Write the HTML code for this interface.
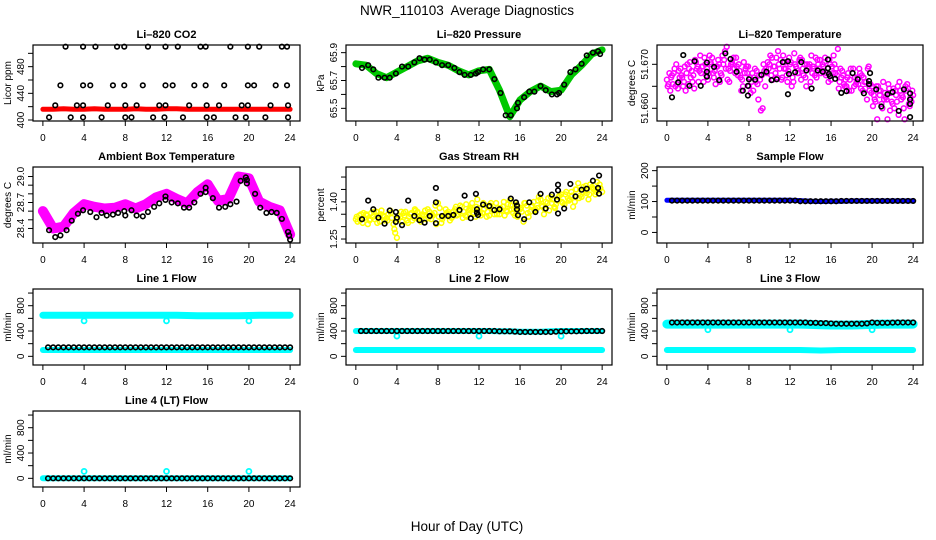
<!DOCTYPE html>
<html><head><meta charset="utf-8"><style>
html,body{margin:0;padding:0;background:#fff;width:936px;height:540px;overflow:hidden}
svg{display:block;font-family:"Liberation Sans",Arial,sans-serif}
</style></head><body>
<svg id="chart" width="936" height="540" viewBox="0 0 936 540">
<text x="467" y="15" text-anchor="middle" font-size="13.5">NWR_110103&#160; Average Diagnostics</text>
<text x="467" y="531" text-anchor="middle" font-size="13.5">Hour of Day (UTC)</text>
</svg>
<script>
// ---------- data ----------
const xTicks=[0,4,8,12,16,20,24];
const co2Hours=[2.2,3.9,5.1,7.2,7.9,10.2,11.9,13.1,15.3,15.8,18.2,19.9,21.0,23.2,23.7, 1.7,3.9,4.6,6.8,7.9,9.7,11.9,12.6,14.7,15.8,17.6,19.9,20.5,22.6,23.7, 1.2,3.3,3.9,6.3,8.0,9.1,11.3,11.9,14.2,15.9,17.1,19.3,19.9,22.1,23.8, 0.6,2.7,3.9,5.7,8.0,8.6,10.7,11.8,13.6,15.9,16.6,18.7,19.7,21.6,23.8];
const co2Vals=[510,510,510,510,510,510,510,510,510,510,510,510,510,510,510, 452,452,452,452,452,452,452,452,452,452,452,452,452,452,452, 422,422,422,422,422,422,422,422,422,422,422,422,422,422,422, 404,404,404,404,404,404,404,404,404,404,404,404,404,404,404];
const co2Red=[416,416,417,416,416,417,416,416,416,417,416,416,417,417,416,416,416,416,416,416,416,416,416,416,416];
const presHours=[0.6,1.2,1.7,2.2,2.8,3.3,3.9,4.5,5.1,5.7,6.2,6.7,7.2,7.8,8.4,9.0,9.6,10.1,10.6,11.2,11.7,11.9,12.4,13.0,13.5,14.1,14.6,15.1,15.7,15.8,16.4,16.9,17.4,18.0,18.5,19.1,19.6,19.8,20.3,20.9,21.4,22.0,22.5,23.1,23.6,23.8];
const presVals=[65.79,65.81,65.78,65.72,65.72,65.72,65.75,65.80,65.80,65.83,65.86,65.85,65.85,65.83,65.81,65.81,65.79,65.76,65.74,65.74,65.75,65.76,65.78,65.78,65.71,65.61,65.45,65.45,65.50,65.54,65.58,65.62,65.62,65.66,65.63,65.60,65.60,65.61,65.67,65.76,65.78,65.82,65.88,65.90,65.91,65.89];
const presGreen=[65.82,65.81,65.75,65.72,65.76,65.80,65.84,65.86,65.83,65.81,65.77,65.74,65.77,65.78,65.63,65.44,65.56,65.62,65.66,65.62,65.63,65.74,65.81,65.89,65.92];
const tempHours=[0.5,1.1,1.6,2.2,2.7,3.3,3.9,3.9,3.9,4.6,5.1,5.7,6.2,6.8,7.4,7.9,7.9,8.0,8.6,9.2,9.7,10.2,10.7,11.3,11.8,11.8,11.9,12.5,13.1,13.6,14.1,14.7,15.2,15.7,15.7,15.8,15.9,16.4,17.0,17.5,18.1,18.6,19.2,19.7,19.7,19.8,20.4,20.9,21.5,22.0,22.6,23.1,23.7,23.7,23.7,23.7];
const tempVals=[51.6625,51.6659,51.6721,51.6651,51.6707,51.6651,51.6704,51.6683,51.6672,51.6694,51.6664,51.6725,51.6712,51.6683,51.6640,51.6651,51.6629,51.6666,51.6665,51.6676,51.6683,51.6664,51.6666,51.6705,51.6707,51.6632,51.6678,51.6682,51.6705,51.6686,51.6645,51.6686,51.6683,51.6711,51.6691,51.6678,51.6673,51.6667,51.6635,51.6639,51.6680,51.6666,51.6634,51.6655,51.6662,51.6680,51.6643,51.6604,51.6632,51.6637,51.6594,51.6643,51.6634,51.6620,51.6610,51.6580];
const tempMagA=[51.6665,51.6640,51.6680,51.6655,51.6690,51.6660,51.6700,51.6670,51.6645,51.6695,51.6680,51.6715,51.6665,51.6700,51.6685,51.6710,51.6675,51.6730,51.6690,51.6705,51.6680,51.6700,51.6665,51.6690,51.6650,51.6680,51.6660,51.6675,51.6600,51.6690,51.6700,51.6665,51.6715,51.6690,51.6720,51.6675,51.6700,51.6660,51.6690,51.6715,51.6675,51.6700,51.6660,51.6690,51.6710,51.6680,51.6705,51.6690,51.6665,51.6700,51.6735,51.6670,51.6650,51.6680,51.6640,51.6670,51.6655,51.6675,51.6645,51.6695,51.6650,51.6615,51.6640,51.6600,51.6625,51.6645,51.6610,51.6630,51.6660,51.6625,51.6640,51.6605,51.6630];
const tempMagB=[51.6655,51.6675,51.6650,51.6685,51.6670,51.6640,51.6690,51.6660,51.6705,51.6685,51.6695,51.6675,51.6720,51.6680,51.6695,51.6660,51.6700,51.6740,51.6685,51.6715,51.6695,51.6670,51.6705,51.6680,51.6635,51.6670,51.6655,51.6595,51.6685,51.6705,51.6675,51.6695,51.6730,51.6665,51.6705,51.6685,51.6650,51.6700,51.6680,51.6710,51.6670,51.6695,51.6680,51.6715,51.6690,51.6700,51.6675,51.6710,51.6680,51.6690,51.6660,51.6675,51.6650,51.6665,51.6690,51.6660,51.6680,51.6670,51.6620,51.6655,51.6630,51.6575,51.6640,51.6620,51.6575,51.6635,51.6600,51.6650,51.6620,51.6575,51.6645,51.6615];
const tempMagC=[51.6650,51.6670,51.6690,51.6645,51.6675,51.6695,51.6655,51.6685,51.6710,51.6660,51.6695,51.6700,51.6680,51.6715,51.6655,51.6700,51.6720,51.6690,51.6660,51.6700,51.6715,51.6685,51.6650,51.6695,51.6670,51.6640,51.6685,51.6665,51.6700,51.6680,51.6720,51.6695,51.6670,51.6710,51.6690,51.6660,51.6705,51.6725,51.6680,51.6665,51.6700,51.6690,51.6720,51.6675,51.6700,51.6685,51.6715,51.6660,51.6695,51.6680,51.6645,51.6685,51.6665,51.6640,51.6680,51.6655,51.6690,51.6640,51.6660,51.6640,51.6605,51.6650,51.6630,51.6660,51.6620,51.6595,51.6645,51.6615,51.6640,51.6600,51.6655,51.6625];
const tempMagD=[51.6680,51.6655,51.6700,51.6670,51.6650,51.6680,51.6705,51.6675,51.6690,51.6720,51.6660,51.6690,51.6705,51.6670,51.6695,51.6680,51.6710,51.6665,51.6700,51.6690,51.6675,51.6640,51.6680,51.6695,51.6660,51.6690,51.6620,51.6675,51.6650,51.6690,51.6715,51.6680,51.6700,51.6670,51.6690,51.6715,51.6670,51.6695,51.6710,51.6690,51.6650,51.6700,51.6695,51.6670,51.6710,51.6695,51.6680,51.6700,51.6720,51.6675,51.6690,51.6655,51.6670,51.6690,51.6650,51.6670,51.6645,51.6660,51.6690,51.6635,51.6620,51.6650,51.6610,51.6635,51.6655,51.6615,51.6640,51.6585,51.6630,51.6650,51.6610,51.6640];
const ambHours=[0.6,1.2,1.7,2.3,2.8,3.4,3.9,4.6,5.2,5.7,6.2,6.8,7.3,7.9,8.0,8.6,9.1,9.7,10.2,10.8,11.3,11.9,11.9,12.5,13.1,13.7,14.2,14.7,15.3,15.8,15.8,16.5,17.1,17.7,18.2,18.8,19.2,19.7,19.8,19.8,20.6,21.1,21.7,22.2,22.7,23.2,23.8,23.9,24.0];
const ambVals=[28.38,28.30,28.32,28.38,28.49,28.57,28.61,28.59,28.53,28.58,28.55,28.56,28.58,28.60,28.55,28.61,28.55,28.54,28.59,28.65,28.69,28.77,28.73,28.70,28.69,28.64,28.64,28.70,28.80,28.87,28.82,28.75,28.64,28.65,28.68,28.71,28.95,28.99,28.96,28.92,28.80,28.64,28.58,28.59,28.58,28.51,28.36,28.32,28.27];
const ambMag=[28.60,28.40,28.42,28.58,28.68,28.65,28.63,28.64,28.68,28.63,28.68,28.76,28.80,28.74,28.69,28.82,28.91,28.72,28.74,29.00,28.98,28.71,28.65,28.61,28.33];
const rhHours=[0.6,1.2,1.7,2.2,2.8,3.3,3.9,3.9,4.0,4.5,5.1,5.7,6.2,6.7,7.2,7.8,7.8,7.8,8.4,9.0,9.5,10.1,10.6,11.2,11.7,11.8,11.8,11.9,12.4,13.0,13.5,14.0,15.1,15.6,15.7,15.7,15.8,16.4,16.9,17.5,18.0,18.5,19.1,19.6,19.7,19.7,19.7,20.3,20.9,21.4,22.0,22.5,23.1,23.6,23.7,23.7];
const rhVals=[1.330,1.405,1.370,1.336,1.312,1.365,1.359,1.319,1.336,1.306,1.405,1.343,1.326,1.316,1.343,1.456,1.398,1.314,1.343,1.343,1.347,1.367,1.425,1.334,1.432,1.370,1.356,1.347,1.389,1.383,1.367,1.370,1.413,1.398,1.385,1.370,1.346,1.330,1.398,1.359,1.432,1.373,1.429,1.409,1.469,1.446,1.353,1.373,1.472,1.422,1.449,1.453,1.485,1.456,1.506,1.433];
const rhYelA=[1.330,1.345,1.315,1.350,1.325,1.340,1.360,1.320,1.345,1.335,1.365,1.310,1.255,1.340,1.355,1.325,1.350,1.335,1.360,1.320,1.345,1.370,1.330,1.355,1.395,1.315,1.345,1.360,1.335,1.370,1.350,1.380,1.345,1.365,1.395,1.340,1.375,1.355,1.385,1.345,1.370,1.395,1.350,1.380,1.365,1.405,1.355,1.390,1.370,1.320,1.385,1.360,1.400,1.375,1.410,1.350,1.395,1.420,1.380,1.405,1.430,1.390,1.415,1.440,1.400,1.475,1.420,1.445,1.410,1.460,1.430,1.450,1.440];
const rhYelB=[1.320,1.350,1.335,1.310,1.355,1.330,1.345,1.365,1.325,1.350,1.335,1.275,1.345,1.320,1.360,1.340,1.325,1.365,1.340,1.350,1.330,1.360,1.345,1.310,1.375,1.340,1.355,1.325,1.360,1.345,1.385,1.360,1.340,1.375,1.355,1.410,1.345,1.370,1.360,1.395,1.350,1.375,1.365,1.345,1.390,1.370,1.345,1.380,1.360,1.395,1.340,1.385,1.370,1.420,1.380,1.400,1.365,1.410,1.390,1.425,1.395,1.440,1.410,1.380,1.450,1.425,1.460,1.435,1.470,1.450,1.480,1.455];
const rhYelC=[1.340,1.325,1.355,1.345,1.330,1.360,1.315,1.350,1.340,1.325,1.355,1.290,1.330,1.360,1.345,1.315,1.355,1.370,1.330,1.345,1.365,1.335,1.350,1.385,1.340,1.330,1.370,1.350,1.340,1.380,1.360,1.335,1.390,1.370,1.350,1.380,1.360,1.395,1.340,1.385,1.365,1.350,1.375,1.400,1.360,1.385,1.370,1.340,1.375,1.395,1.355,1.380,1.365,1.405,1.385,1.370,1.415,1.395,1.375,1.420,1.400,1.430,1.405,1.425,1.450,1.415,1.440,1.465,1.430,1.455,1.440,1.470];
const halfHours=[0.5,1,1.5,2,2.5,3,3.5,4,4.5,5,5.5,6,6.5,7,7.5,8,8.5,9,9.5,10,10.5,11,11.5,12,12.5,13,13.5,14,14.5,15,15.5,16,16.5,17,17.5,18,18.5,19,19.5,20,20.5,21,21.5,22,22.5,23,23.5,24];
const hours=[0,1,2,3,4,5,6,7,8,9,10,11,12,13,14,15,16,17,18,19,20,21,22,23,24];
const sampleBlack=[103,103,103,103,103,103,103,103,103,103,103,103,103,103,103,103,103,103,103,103,103,103,103,103,103,101,101,101,101,101,101,101,101,102,102,102,102,102,102,102,102,102,102,102,102,102,102,102];
const sampleBlue=[104,104,104,104,104,104,104,104,104,104,104,104,104,103,101,100,101,101,102,102,102,102,102,102,102];
const dipHours=[4,12,20];
const l1Black=[142,142,142,142,142,142,142,142,142,142,142,142,142,142,142,142,142,142,142,142,142,142,142,142,142,142,142,142,142,142,142,142,142,142,142,142,142,142,142,142,142,142,142,142,142,142,142,142];
const l1Hi=[650,650,650,650,650,650,650,650,650,650,650,650,650,650,645,640,640,640,640,640,645,650,650,650,650];
const l1Lo=[100,100,100,100,100,100,100,100,100,100,100,100,100,100,100,100,100,100,100,100,100,100,100,100,100];
const l1Dip=[560,560,560];
const l2Black=[400,400,400,400,400,400,400,400,400,400,400,400,400,400,400,400,400,400,400,400,400,400,400,400,400,400,400,395,395,395,390,385,385,385,385,385,385,385,390,395,395,395,395,398,400,400,400,400];
const l2Hi=[400,400,400,400,400,400,400,400,400,400,400,400,400,400,395,395,390,390,390,395,400,400,400,400,400];
const l2Lo=[100,100,100,100,100,100,100,100,100,100,100,100,100,100,100,100,100,100,100,100,100,100,100,100,100];
const l2Dip=[320,320,320];
const l3Black=[535,535,535,535,535,535,535,535,535,535,535,535,535,535,535,535,535,535,535,535,535,535,535,535,535,535,535,530,530,525,525,520,515,515,515,515,515,515,520,535,530,530,530,533,535,535,535,535];
const l3Hi=[510,510,510,510,510,510,510,510,510,510,510,510,510,510,505,500,495,495,495,500,505,510,510,510,510];
const l3Lo=[100,100,100,100,100,100,100,100,100,100,100,100,100,100,95,92,95,100,100,100,100,100,100,100,100];
const l3Dip=[420,420,420];
const l4Black=[0,0,0,0,0,0,0,0,0,0,0,0,0,0,0,0,0,0,0,0,0,0,0,0,0,0,0,0,0,0,0,0,0,0,0,0,0,0,0,0,0,0,0,0,0,0,0,0];
const l4Cyan=[0,0,0,0,0,0,0,0,0,0,0,0,0,0,0,0,0,0,0,0,0,0,0,0,0];
const l4Dip=[110,110,110];
const flowTicks=[0,200,400,600,800,1000];
const flowLabels=['0','','400','','800',''];

// ---------- drawing ----------
const NS='http://www.w3.org/2000/svg';
const svg=document.getElementById('chart');
const COLS=[[33,300],[346,612],[657,923]];
const TOPS=[45,167,289,411];
const H=76;
function mk(tag,attrs,parent){const e=document.createElementNS(NS,tag);for(const k in attrs)e.setAttribute(k,attrs[k]);parent.appendChild(e);return e;}
function panel(id,col,row,title,ylab,ylim,yt,yl){
  const g=mk('g',{},svg);
  
  
  const L=COLS[col][0],R=COLS[col][1],T=TOPS[row],B=T+H;
  const sx=h=>L+(h+0.96)/25.92*(R-L);
  const sy=v=>T+(ylim[1]-v)/(ylim[1]-ylim[0])*H;
  const t=mk('text',{x:(L+R)/2,y:T-7,'text-anchor':'middle','font-size':'11','font-weight':'bold'},g);
  t.textContent=title;
  
  
  const yt2=mk('text',{x:0,y:0,'text-anchor':'middle','font-size':'10',transform:`translate(${L-22},${(T+B)/2}) rotate(-90)`},g);
  yt2.textContent=ylab;
  
  
  xTicks.forEach(h=>{
    const x=sx(h);
    mk('line',{x1:x,x2:x,y1:B,y2:B+5,stroke:'#000','stroke-width':1},g);
    const tl=mk('text',{x:x,y:B+20,'text-anchor':'middle','font-size':'10'},g);
    tl.textContent=String(h);
    
    
  });
  yt.forEach((v,i)=>{
    const y=sy(v);
    mk('line',{x1:L-5,x2:L,y1:y,y2:y,stroke:'#000','stroke-width':1},g);
    if(yl[i]){
      const tl=mk('text',{x:0,y:0,'text-anchor':'middle','font-size':'10',transform:`translate(${L-9},${y}) rotate(-90)`},g);
      tl.textContent=yl[i];
      
      
    }
  });
  const plot=mk('g',{},g);
  const box=mk('rect',{x:L,y:T,width:R-L,height:H,fill:'none',stroke:'#000','stroke-width':1.2},g);
  
  
  return {g:plot,sx,sy};
}
function pts(p,xs,ys,color,name,r,sw){
  const g=mk('g',{},p.g);
  
  
  ys.forEach((v,i)=>{
    const c=mk('circle',{cx:p.sx(xs[i]),cy:p.sy(v),r:r||2.3,fill:'none',stroke:color,'stroke-width':sw||1.6},g);
    
    
  });
}
function band(p,xs,ys,color,w,name){
  const d=ys.map((v,i)=>(i?'L':'M')+p.sx(xs[i]).toFixed(1)+','+p.sy(v).toFixed(1)).join(' ');
  const e=mk('path',{d:d,fill:'none',stroke:color,'stroke-width':w,'stroke-linejoin':'round','stroke-linecap':'round'},p.g);
  
  
}
function idxHours(arr,offset){return arr.map((_,i)=>offset+i*(1/3));}

// CO2
let p=panel('co2',0,0,'Li\u2013820 CO2','Licor ppm',[398.5,512.5],[400,420,440,460,480,500],['400','','440','','480','']);
band(p,hours,co2Red,'#ff0000',5,'co2-red-series');
pts(p,co2Hours,co2Vals,'#000','co2-black-series');
// Pressure
p=panel('pressure',1,0,'Li\u2013820 Pressure','kPa',[65.409,65.955],[65.5,65.6,65.7,65.8,65.9],['65.5','','65.7','','65.9']);
band(p,hours,presGreen,'#00c800',7,'pressure-green-series');
pts(p,presHours,presVals,'#000','pressure-black-series');
// Li temp
p=panel('li-temp',2,0,'Li\u2013820 Temperature','degrees C',[51.65711,51.67439],[51.660,51.665,51.670],['51.660','','51.670']);
pts(p,idxHours(tempMagA,0),tempMagA,'#ff00ff','temp-magenta-series-a',2.4,1.5);
pts(p,idxHours(tempMagB,1/6),tempMagB,'#ff00ff','temp-magenta-series-b',2.4,1.5);
pts(p,idxHours(tempMagC,1/12),tempMagC,'#ff00ff','temp-magenta-series-c',2.4,1.5);
pts(p,idxHours(tempMagD,1/4),tempMagD,'#ff00ff','temp-magenta-series-d',2.4,1.5);
pts(p,tempHours,tempVals,'#000','temp-black-series');
// Ambient
p=panel('ambient',0,1,'Ambient Box Temperature','degrees C',[28.232,29.110],[28.4,28.5,28.6,28.7,28.8,28.9,29.0],['28.4','','','28.7','','','29.0']);
band(p,hours,ambMag,'#ff00ff',10,'ambient-magenta-series');
pts(p,ambHours,ambVals,'#000','ambient-black-series');
// RH
p=panel('rh',1,1,'Gas Stream RH','percent',[1.234,1.5405],[1.25,1.30,1.35,1.40,1.45,1.50],['1.25','','','1.40','','']);
pts(p,idxHours(rhYelA,0),rhYelA,'#ffff00','rh-yellow-series-a',2.4,1.5);
pts(p,idxHours(rhYelB,1/6),rhYelB,'#ffff00','rh-yellow-series-b',2.4,1.5);
pts(p,idxHours(rhYelC,1/12),rhYelC,'#ffff00','rh-yellow-series-c',2.4,1.5);
pts(p,rhHours,rhVals,'#000','rh-black-series');
// Sample flow
p=panel('sample-flow',2,1,'Sample Flow','ml/min',[-34.2,211.8],[0,50,100,150,200],['0','','100','','200']);
band(p,hours,sampleBlue,'#0000ff',5,'sample-blue-series');
pts(p,halfHours,sampleBlack,'#000','sample-black-series');
// Line flows
function flow(id,col,row,title,hi,lo,dip,black,hiW){
  const q=panel(id,col,row,title,'ml/min',[-137,1064],flowTicks,flowLabels);
  if(hi)band(q,hours,hi,'#00ffff',hiW||6,id+'-cyan-high-series');
  if(lo)band(q,hours,lo,'#00ffff',6,id+'-cyan-low-series');
  pts(q,dipHours,dip,'#00ffff',id+'-cyan-dip-series',2.5,1.8);
  pts(q,halfHours,black,'#000',id+'-black-series');
}
flow('line1-flow',0,2,'Line 1 Flow',l1Hi,l1Lo,l1Dip,l1Black,7);
flow('line2-flow',1,2,'Line 2 Flow',l2Hi,l2Lo,l2Dip,l2Black,6);
flow('line3-flow',2,2,'Line 3 Flow',l3Hi,l3Lo,l3Dip,l3Black,9);
flow('line4-flow',0,3,'Line 4 (LT) Flow',l4Cyan,null,l4Dip,l4Black,6);
</script>
</body></html>
